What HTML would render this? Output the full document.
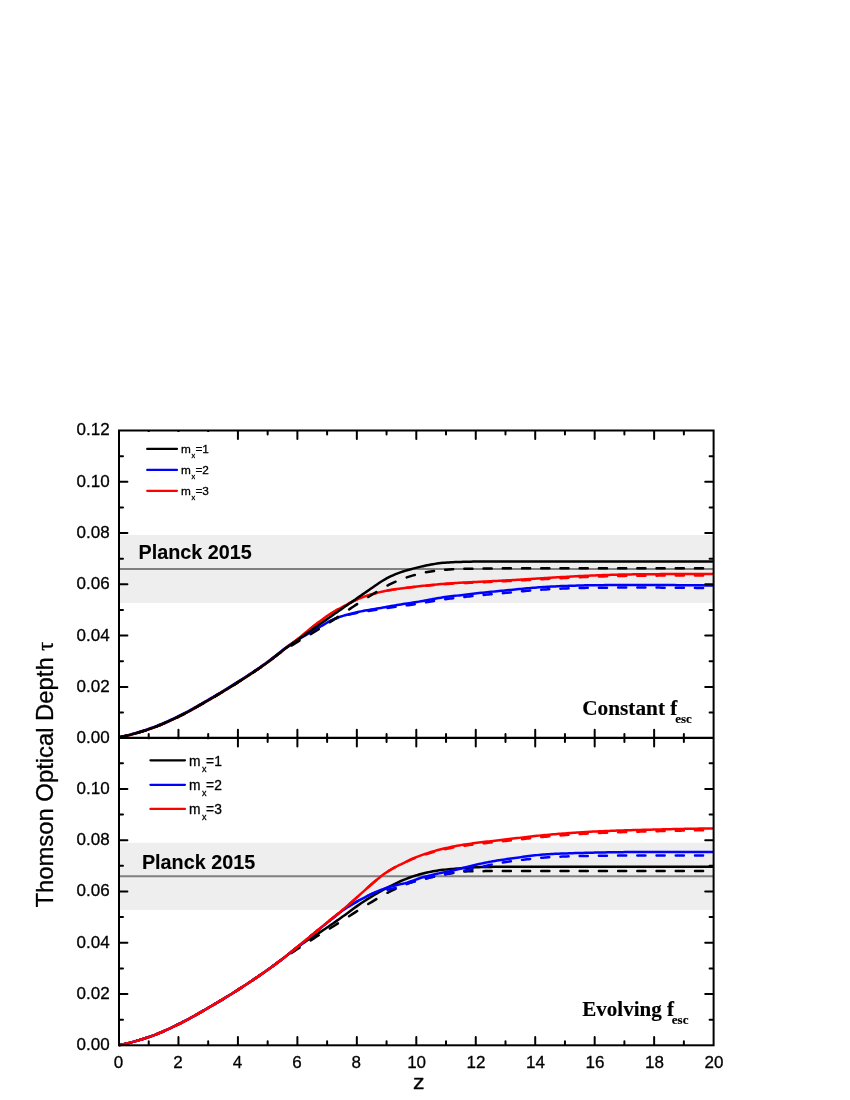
<!DOCTYPE html>
<html><head><meta charset="utf-8"><title>Thomson Optical Depth</title>
<style>html,body{margin:0;padding:0;background:#fff}svg{display:block}text{font-family:"Liberation Sans",sans-serif;fill:#000;stroke:#000;stroke-width:0.3px;stroke-linejoin:round}.ser{font-family:"Liberation Serif",serif;font-weight:bold;stroke-width:0.15px}.c{fill:none;stroke-width:2.5;stroke-linejoin:round}</style></head><body>
<svg width="850" height="1100" viewBox="0 0 850 1100" style="will-change:transform">
<rect width="850" height="1100" fill="#fff"/>
<rect x="120" y="534.9" width="593" height="68" fill="#eeeeee"/>
<rect x="120" y="842.8" width="593" height="67.1" fill="#eeeeee"/>
<line x1="120" x2="713" y1="569" y2="569" stroke="#808080" stroke-width="2"/>
<line x1="120" x2="713" y1="876.2" y2="876.2" stroke="#808080" stroke-width="2"/>
<defs><clipPath id="cu"><rect x="119" y="430" width="594.6" height="309"/></clipPath><clipPath id="cl"><rect x="119" y="737" width="594.6" height="309.5"/></clipPath></defs>
<g clip-path="url(#cu)">
<path class="c" stroke="#0000ff" d="M119 737.29 L121 736.86 L123 736.4 L125 735.93 L127 735.43 L129 734.91 L131 734.37 L133 733.81 L135 733.24 L137 732.64 L139 732.03 L141 731.4 L143 730.76 L145 730.1 L147 729.43 L149 728.74 L151 728.04 L153 727.33 L155 726.58 L157 725.8 L159 725 L161 724.17 L163 723.32 L165 722.45 L167 721.56 L169 720.66 L171 719.74 L173 718.8 L175 717.86 L177 716.9 L179 715.94 L181 714.95 L183 713.94 L185 712.91 L187 711.86 L189 710.78 L191 709.68 L193 708.57 L195 707.44 L197 706.3 L199 705.16 L201 704 L203 702.85 L205 701.69 L207 700.53 L209 699.37 L211 698.2 L213 697.03 L215 695.86 L217 694.67 L219 693.48 L221 692.28 L223 691.07 L225 689.85 L227 688.63 L229 687.4 L231 686.16 L233 684.91 L235 683.65 L237 682.38 L239 681.11 L241 679.83 L243 678.54 L245 677.24 L247 675.94 L249 674.63 L251 673.31 L253 671.98 L255 670.63 L257 669.28 L259 667.91 L261 666.52 L263 665.12 L265 663.7 L267 662.26 L269 660.79 L271 659.29 L273 657.76 L275 656.21 L277 654.63 L279 653.03 L281 651.41 L283 649.8 L285 648.22 L287 646.77 L289 645.38 L291 644.04 L293 642.74 L295 641.48 L297 640.25 L299 639.07 L301 637.9 L303 636.73 L305 635.58 L307 634.42 L309 633.26 L311 632.09 L313 630.92 L315 629.76 L317 628.61 L319 627.44 L321 626.26 L323 625.06 L325 623.87 L327 622.71 L329 621.61 L331 620.57 L333 619.6 L335 618.72 L337 617.91 L339 617.18 L341 616.5 L343 615.87 L345 615.28 L347 614.72 L349 614.19 L351 613.68 L353 613.19 L355 612.71 L357 612.26 L359 611.81 L361 611.39 L363 610.99 L365 610.6 L367 610.23 L369 609.89 L371 609.55 L373 609.23 L375 608.91 L377 608.59 L379 608.25 L381 607.9 L383 607.54 L385 607.17 L387 606.8 L389 606.43 L391 606.06 L393 605.71 L395 605.36 L397 605.03 L399 604.72 L401 604.41 L403 604.11 L405 603.82 L407 603.52 L409 603.23 L411 602.92 L413 602.61 L415 602.29 L417 601.96 L419 601.61 L421 601.26 L423 600.9 L425 600.54 L427 600.18 L429 599.81 L431 599.45 L433 599.08 L435 598.71 L437 598.34 L439 597.99 L441 597.66 L443 597.35 L445 597.07 L447 596.81 L449 596.56 L451 596.33 L453 596.1 L455 595.86 L457 595.63 L459 595.39 L461 595.15 L463 594.91 L465 594.67 L467 594.43 L469 594.19 L471 593.96 L473 593.73 L475 593.5 L477 593.28 L479 593.07 L481 592.86 L483 592.65 L485 592.44 L487 592.24 L489 592.03 L491 591.83 L493 591.63 L495 591.44 L497 591.24 L499 591.05 L501 590.85 L503 590.66 L505 590.47 L507 590.28 L509 590.09 L511 589.89 L513 589.7 L515 589.51 L517 589.31 L519 589.11 L521 588.91 L523 588.72 L525 588.52 L527 588.33 L529 588.15 L531 587.97 L533 587.8 L535 587.64 L537 587.49 L539 587.35 L541 587.22 L543 587.09 L545 586.96 L547 586.84 L549 586.72 L551 586.61 L553 586.5 L555 586.4 L557 586.3 L559 586.2 L561 586.12 L563 586.03 L565 585.96 L567 585.89 L569 585.82 L571 585.75 L573 585.69 L575 585.63 L577 585.57 L579 585.51 L581 585.46 L583 585.41 L585 585.36 L587 585.32 L589 585.28 L591 585.25 L593 585.22 L595 585.2 L597 585.18 L599 585.16 L601 585.14 L603 585.13 L605 585.11 L607 585.1 L609 585.08 L611 585.07 L613 585.06 L615 585.04 L617 585.03 L619 585.02 L621 585.02 L623 585.01 L625 585.01 L627 585 L629 585 L631 585 L633 585 L635 585 L637 585 L639 585 L641 585.01 L643 585.01 L645 585.01 L647 585.01 L649 585.02 L651 585.02 L653 585.03 L655 585.03 L657 585.04 L659 585.05 L661 585.05 L663 585.06 L665 585.07 L667 585.08 L669 585.09 L671 585.1 L673 585.11 L675 585.12 L677 585.13 L679 585.14 L681 585.16 L683 585.17 L685 585.19 L687 585.2 L689 585.22 L691 585.24 L693 585.26 L695 585.27 L697 585.29 L699 585.32 L701 585.34 L703 585.36 L705 585.38 L707 585.41 L709 585.43 L711 585.46 L713 585.48 L713.6 585.48"/>
<path class="c" stroke-linecap="round" stroke="#0000ff" d="M119 737.39 L120.51 737.08 L122.02 736.76 L123.52 736.43 L125.03 736.09 L126.54 735.73 M137.66 732.75 L139.28 732.27 L140.9 731.78 L142.52 731.28 L144.14 730.77 L145.76 730.25 M156.87 726.3 L158.49 725.66 L160.11 724.99 L161.73 724.31 L163.35 723.62 L164.97 722.91 M176.09 717.79 L177.71 717.01 L179.33 716.22 L180.95 715.43 L182.57 714.61 L184.19 713.78 M195.31 707.72 L196.93 706.79 L198.55 705.87 L200.17 704.93 L201.79 704 L203.41 703.06 M214.53 696.58 L216.15 695.63 L217.77 694.66 L219.39 693.7 L221.01 692.72 L222.63 691.75 M233.75 684.89 L235.37 683.87 L236.99 682.84 L238.61 681.81 L240.23 680.77 L241.85 679.73 M252.96 672.45 L254.58 671.36 L256.2 670.27 L257.82 669.16 L259.44 668.05 L261.06 666.92 M272.18 658.84 L273.8 657.59 L275.42 656.33 L277.04 655.05 L278.66 653.75 L280.28 652.44 M291.4 644.03 L293.02 642.94 L294.64 641.86 L296.26 640.82 L297.88 639.79 L299.5 638.8 M310.62 632.31 L312.24 631.37 L313.86 630.43 L315.48 629.49 L317.1 628.55 L318.72 627.61 M329.84 621.17 L331.46 620.38 L333.08 619.64 L334.7 618.96 L336.32 618.33 L337.94 617.75 M349.05 614.63 L350.67 614.25 L352.29 613.89 L353.91 613.53 L355.53 613.19 L357.15 612.86 M368.27 610.91 L369.89 610.67 L371.51 610.44 L373.13 610.22 L374.75 610 L376.37 609.78 M387.49 608.06 L389.11 607.79 L390.73 607.54 L392.35 607.28 L393.97 607.04 L395.59 606.8 M406.71 605.37 L408.33 605.16 L409.95 604.96 L411.57 604.74 L413.19 604.5 L414.81 604.25 M425.93 602.36 L427.55 602.08 L429.17 601.8 L430.79 601.51 L432.41 601.22 L434.03 600.93 M445.14 599.16 L446.76 598.96 L448.38 598.77 L450 598.59 L451.62 598.41 L453.24 598.23 M464.36 596.98 L465.98 596.79 L467.6 596.61 L469.22 596.43 L470.84 596.25 L472.46 596.07 M483.58 594.94 L485.2 594.78 L486.82 594.63 L488.44 594.47 L490.06 594.32 L491.68 594.17 M502.8 593.15 L504.42 593.01 L506.04 592.86 L507.66 592.71 L509.28 592.56 L510.9 592.41 M522.02 591.32 L523.64 591.16 L525.26 591.01 L526.88 590.85 L528.5 590.7 L530.12 590.56 M541.23 589.72 L542.85 589.61 L544.47 589.51 L546.09 589.41 L547.71 589.32 L549.33 589.22 M560.45 588.66 L562.07 588.6 L563.69 588.53 L565.31 588.47 L566.93 588.42 L568.55 588.36 M579.67 588.03 L581.29 587.98 L582.91 587.95 L584.53 587.91 L586.15 587.87 L587.77 587.84 M598.89 587.71 L600.51 587.69 L602.13 587.68 L603.75 587.67 L605.37 587.66 L606.99 587.64 M618.11 587.58 L619.73 587.58 L621.35 587.57 L622.97 587.57 L624.59 587.56 L626.21 587.56 M637.32 587.57 L638.94 587.57 L640.56 587.57 L642.18 587.57 L643.8 587.58 L645.42 587.58 M656.54 587.61 L658.16 587.62 L659.78 587.62 L661.4 587.63 L663.02 587.64 L664.64 587.64 M675.76 587.71 L677.38 587.72 L679 587.73 L680.62 587.74 L682.24 587.75 L683.86 587.76 M694.98 587.87 L696.6 587.88 L698.22 587.9 L699.84 587.92 L701.46 587.94 L703.08 587.96"/>
<path class="c" stroke="#ff0000" d="M119 737.39 L121 736.99 L123 736.57 L125 736.12 L127 735.66 L129 735.17 L131 734.67 L133 734.14 L135 733.6 L137 733.03 L139 732.45 L141 731.86 L143 731.25 L145 730.62 L147 729.98 L149 729.33 L151 728.64 L153 727.93 L155 727.18 L157 726.4 L159 725.6 L161 724.77 L163 723.92 L165 723.05 L167 722.16 L169 721.26 L171 720.34 L173 719.4 L175 718.46 L177 717.5 L179 716.54 L181 715.55 L183 714.54 L185 713.51 L187 712.46 L189 711.38 L191 710.28 L193 709.17 L195 708.04 L197 706.9 L199 705.76 L201 704.6 L203 703.45 L205 702.29 L207 701.13 L209 699.97 L211 698.8 L213 697.63 L215 696.46 L217 695.27 L219 694.08 L221 692.88 L223 691.67 L225 690.45 L227 689.23 L229 688 L231 686.76 L233 685.51 L235 684.25 L237 682.98 L239 681.71 L241 680.43 L243 679.14 L245 677.84 L247 676.54 L249 675.23 L251 673.91 L253 672.58 L255 671.23 L257 669.88 L259 668.51 L261 667.12 L263 665.72 L265 664.3 L267 662.85 L269 661.38 L271 659.88 L273 658.34 L275 656.78 L277 655.19 L279 653.6 L281 652.01 L283 650.44 L285 648.88 L287 647.35 L289 645.85 L291 644.36 L293 642.87 L295 641.33 L297 639.74 L299 638.1 L301 636.41 L303 634.71 L305 633.03 L307 631.37 L309 629.75 L311 628.15 L313 626.58 L315 625.03 L317 623.5 L319 621.98 L321 620.47 L323 618.96 L325 617.49 L327 616.08 L329 614.74 L331 613.47 L333 612.25 L335 611.08 L337 609.94 L339 608.83 L341 607.75 L343 606.67 L345 605.6 L347 604.53 L349 603.47 L351 602.43 L353 601.41 L355 600.42 L357 599.47 L359 598.58 L361 597.78 L363 597.06 L365 596.38 L367 595.74 L369 595.12 L371 594.51 L373 593.93 L375 593.37 L377 592.84 L379 592.34 L381 591.87 L383 591.43 L385 591.02 L387 590.64 L389 590.28 L391 589.94 L393 589.61 L395 589.3 L397 589 L399 588.71 L401 588.43 L403 588.16 L405 587.9 L407 587.65 L409 587.4 L411 587.16 L413 586.93 L415 586.7 L417 586.48 L419 586.26 L421 586.04 L423 585.83 L425 585.62 L427 585.41 L429 585.21 L431 585.01 L433 584.82 L435 584.63 L437 584.44 L439 584.26 L441 584.09 L443 583.92 L445 583.76 L447 583.61 L449 583.46 L451 583.32 L453 583.18 L455 583.05 L457 582.92 L459 582.81 L461 582.7 L463 582.59 L465 582.49 L467 582.39 L469 582.29 L471 582.2 L473 582.1 L475 582 L477 581.9 L479 581.8 L481 581.7 L483 581.6 L485 581.5 L487 581.4 L489 581.3 L491 581.2 L493 581.09 L495 580.99 L497 580.89 L499 580.79 L501 580.68 L503 580.58 L505 580.47 L507 580.36 L509 580.25 L511 580.14 L513 580.03 L515 579.91 L517 579.79 L519 579.68 L521 579.55 L523 579.43 L525 579.31 L527 579.19 L529 579.06 L531 578.94 L533 578.82 L535 578.69 L537 578.57 L539 578.45 L541 578.33 L543 578.21 L545 578.08 L547 577.96 L549 577.84 L551 577.71 L553 577.59 L555 577.47 L557 577.35 L559 577.23 L561 577.11 L563 577 L565 576.88 L567 576.77 L569 576.66 L571 576.55 L573 576.44 L575 576.34 L577 576.23 L579 576.12 L581 576.02 L583 575.92 L585 575.82 L587 575.72 L589 575.63 L591 575.55 L593 575.47 L595 575.39 L597 575.32 L599 575.24 L601 575.17 L603 575.1 L605 575.03 L607 574.96 L609 574.9 L611 574.83 L613 574.77 L615 574.71 L617 574.66 L619 574.6 L621 574.56 L623 574.51 L625 574.48 L627 574.44 L629 574.42 L631 574.39 L633 574.37 L635 574.35 L637 574.33 L639 574.31 L641 574.29 L643 574.27 L645 574.25 L647 574.23 L649 574.21 L651 574.19 L653 574.18 L655 574.16 L657 574.14 L659 574.13 L661 574.11 L663 574.1 L665 574.08 L667 574.07 L669 574.06 L671 574.04 L673 574.03 L675 574.02 L677 574.01 L679 574 L681 573.99 L683 573.98 L685 573.97 L687 573.96 L689 573.95 L691 573.94 L693 573.94 L695 573.93 L697 573.92 L699 573.92 L701 573.91 L703 573.91 L705 573.91 L707 573.9 L709 573.9 L711 573.9 L713 573.9 L713.6 573.9"/>
<path class="c" stroke-linecap="round" stroke="#ff0000" d="M119 737.39 L120.51 737.08 L122.02 736.76 L123.52 736.43 L125.03 736.09 L126.54 735.73 M137.66 732.75 L139.28 732.27 L140.9 731.78 L142.52 731.28 L144.14 730.77 L145.76 730.25 M156.87 726.3 L158.49 725.66 L160.11 724.99 L161.73 724.31 L163.35 723.62 L164.97 722.91 M176.09 717.79 L177.71 717.01 L179.33 716.22 L180.95 715.43 L182.57 714.61 L184.19 713.78 M195.31 707.72 L196.93 706.79 L198.55 705.87 L200.17 704.93 L201.79 704 L203.41 703.06 M214.53 696.58 L216.15 695.63 L217.77 694.66 L219.39 693.7 L221.01 692.72 L222.63 691.75 M233.75 684.89 L235.37 683.87 L236.99 682.84 L238.61 681.81 L240.23 680.77 L241.85 679.73 M252.96 672.45 L254.58 671.36 L256.2 670.27 L257.82 669.16 L259.44 668.05 L261.06 666.92 M272.18 658.82 L273.8 657.57 L275.42 656.3 L277.04 655.03 L278.66 653.75 L280.28 652.48 M291.4 644.06 L293.02 642.85 L294.64 641.61 L296.26 640.34 L297.88 639.03 L299.5 637.68 M310.62 628.45 L312.24 627.17 L313.86 625.91 L315.48 624.66 L317.1 623.42 L318.72 622.19 M329.84 614.2 L331.46 613.19 L333.08 612.21 L334.7 611.26 L336.32 610.33 L337.94 609.42 M349.05 603.44 L350.67 602.6 L352.29 601.77 L353.91 600.95 L355.53 600.16 L357.15 599.4 M368.27 595.34 L369.89 594.84 L371.51 594.36 L373.13 593.89 L374.75 593.44 L376.37 593.01 M387.49 590.59 L389.11 590.31 L390.73 590.05 L392.35 589.79 L393.97 589.55 L395.59 589.31 M406.71 587.85 L408.33 587.66 L409.95 587.47 L411.57 587.29 L413.19 587.11 L414.81 586.94 M425.93 585.81 L427.55 585.65 L429.17 585.5 L430.79 585.35 L432.41 585.2 L434.03 585.05 M445.14 584.15 L446.76 584.04 L448.38 583.93 L450 583.82 L451.62 583.71 L453.24 583.61 M464.36 583.04 L465.98 582.97 L467.6 582.9 L469.22 582.83 L470.84 582.76 L472.46 582.7 M483.58 582.21 L485.2 582.13 L486.82 582.06 L488.44 581.99 L490.06 581.92 L491.68 581.85 M502.8 581.35 L504.42 581.27 L506.04 581.19 L507.66 581.11 L509.28 581.04 L510.9 580.95 M522.02 580.37 L523.64 580.28 L525.26 580.19 L526.88 580.1 L528.5 580.01 L530.12 579.92 M541.23 579.3 L542.85 579.21 L544.47 579.11 L546.09 579.02 L547.71 578.93 L549.33 578.84 M560.45 578.23 L562.07 578.14 L563.69 578.06 L565.31 577.98 L566.93 577.89 L568.55 577.81 M579.67 577.27 L581.29 577.2 L582.91 577.12 L584.53 577.05 L586.15 576.98 L587.77 576.92 M598.89 576.54 L600.51 576.49 L602.13 576.44 L603.75 576.39 L605.37 576.34 L606.99 576.29 M618.11 576.02 L619.73 575.99 L621.35 575.95 L622.97 575.92 L624.59 575.89 L626.21 575.87 M637.32 575.76 L638.94 575.75 L640.56 575.74 L642.18 575.72 L643.8 575.71 L645.42 575.7 M656.54 575.63 L658.16 575.62 L659.78 575.61 L661.4 575.6 L663.02 575.59 L664.64 575.58 M675.76 575.53 L677.38 575.53 L679 575.52 L680.62 575.52 L682.24 575.51 L683.86 575.51 M694.98 575.49 L696.6 575.49 L698.22 575.49 L699.84 575.49 L701.46 575.49 L703.08 575.49"/>
<path class="c" stroke="#000" d="M119 737.39 L121 736.98 L123 736.55 L125 736.09 L127 735.62 L129 735.12 L131 734.61 L133 734.07 L135 733.52 L137 732.95 L139 732.36 L141 731.75 L143 731.13 L145 730.5 L147 729.85 L149 729.18 L151 728.49 L153 727.78 L155 727.03 L157 726.25 L159 725.45 L161 724.62 L163 723.77 L165 722.9 L167 722.01 L169 721.11 L171 720.19 L173 719.25 L175 718.31 L177 717.35 L179 716.39 L181 715.4 L183 714.39 L185 713.36 L187 712.31 L189 711.23 L191 710.13 L193 709.02 L195 707.89 L197 706.75 L199 705.61 L201 704.45 L203 703.3 L205 702.14 L207 700.98 L209 699.82 L211 698.65 L213 697.48 L215 696.31 L217 695.12 L219 693.93 L221 692.73 L223 691.52 L225 690.3 L227 689.08 L229 687.85 L231 686.61 L233 685.36 L235 684.1 L237 682.83 L239 681.56 L241 680.28 L243 678.99 L245 677.69 L247 676.39 L249 675.08 L251 673.76 L253 672.43 L255 671.08 L257 669.73 L259 668.36 L261 666.97 L263 665.57 L265 664.15 L267 662.7 L269 661.23 L271 659.73 L273 658.19 L275 656.63 L277 655.06 L279 653.49 L281 651.92 L283 650.36 L285 648.84 L287 647.37 L289 645.93 L291 644.52 L293 643.13 L295 641.75 L297 640.36 L299 638.96 L301 637.55 L303 636.14 L305 634.72 L307 633.3 L309 631.88 L311 630.46 L313 629.04 L315 627.63 L317 626.23 L319 624.82 L321 623.42 L323 622.01 L325 620.61 L327 619.21 L329 617.81 L331 616.4 L333 615 L335 613.6 L337 612.19 L339 610.79 L341 609.39 L343 608 L345 606.6 L347 605.21 L349 603.82 L351 602.43 L353 601.04 L355 599.66 L357 598.28 L359 596.89 L361 595.51 L363 594.13 L365 592.75 L367 591.36 L369 589.97 L371 588.57 L373 587.17 L375 585.78 L377 584.41 L379 583.07 L381 581.77 L383 580.52 L385 579.33 L387 578.2 L389 577.16 L391 576.2 L393 575.3 L395 574.45 L397 573.65 L399 572.89 L401 572.18 L403 571.51 L405 570.88 L407 570.29 L409 569.72 L411 569.17 L413 568.63 L415 568.11 L417 567.61 L419 567.12 L421 566.64 L423 566.18 L425 565.74 L427 565.32 L429 564.93 L431 564.57 L433 564.22 L435 563.88 L437 563.57 L439 563.29 L441 563.05 L443 562.84 L445 562.67 L447 562.53 L449 562.4 L451 562.28 L453 562.18 L455 562.09 L457 562.02 L459 561.95 L461 561.88 L463 561.82 L465 561.76 L467 561.71 L469 561.67 L471 561.64 L473 561.62 L475 561.61 L477 561.6 L479 561.6 L481 561.6 L483 561.6 L485 561.6 L487 561.6 L489 561.6 L491 561.6 L493 561.6 L495 561.6 L497 561.6 L499 561.6 L501 561.6 L503 561.6 L505 561.6 L507 561.6 L509 561.6 L511 561.6 L513 561.6 L515 561.6 L517 561.6 L519 561.6 L521 561.6 L523 561.6 L525 561.6 L527 561.6 L529 561.6 L531 561.6 L533 561.6 L535 561.6 L537 561.6 L539 561.6 L541 561.6 L543 561.6 L545 561.6 L547 561.6 L549 561.6 L551 561.6 L553 561.6 L555 561.6 L557 561.6 L559 561.6 L561 561.6 L563 561.6 L565 561.6 L567 561.6 L569 561.6 L571 561.6 L573 561.6 L575 561.6 L577 561.6 L579 561.6 L581 561.6 L583 561.6 L585 561.6 L587 561.6 L589 561.6 L591 561.6 L593 561.6 L595 561.6 L597 561.6 L599 561.6 L601 561.6 L603 561.6 L605 561.6 L607 561.6 L609 561.6 L611 561.6 L613 561.6 L615 561.6 L617 561.6 L619 561.6 L621 561.6 L623 561.6 L625 561.6 L627 561.6 L629 561.6 L631 561.6 L633 561.6 L635 561.6 L637 561.6 L639 561.6 L641 561.6 L643 561.6 L645 561.6 L647 561.6 L649 561.6 L651 561.6 L653 561.6 L655 561.6 L657 561.6 L659 561.6 L661 561.6 L663 561.6 L665 561.6 L667 561.6 L669 561.6 L671 561.6 L673 561.6 L675 561.6 L677 561.6 L679 561.6 L681 561.6 L683 561.6 L685 561.6 L687 561.6 L689 561.6 L691 561.6 L693 561.6 L695 561.6 L697 561.6 L699 561.6 L701 561.6 L703 561.6 L705 561.6 L707 561.6 L709 561.6 L711 561.6 L713 561.6 L713.6 561.6"/>
<path class="c" stroke-linecap="round" stroke="#000" d="M119 737.39 L120.51 737.08 L122.02 736.76 L123.52 736.43 L125.03 736.09 L126.54 735.73 M137.66 732.75 L139.28 732.27 L140.9 731.78 L142.52 731.28 L144.14 730.77 L145.76 730.25 M156.87 726.3 L158.49 725.66 L160.11 724.99 L161.73 724.31 L163.35 723.62 L164.97 722.91 M176.09 717.79 L177.71 717.01 L179.33 716.22 L180.95 715.43 L182.57 714.61 L184.19 713.78 M195.31 707.72 L196.93 706.79 L198.55 705.87 L200.17 704.93 L201.79 704 L203.41 703.06 M214.53 696.58 L216.15 695.63 L217.77 694.66 L219.39 693.7 L221.01 692.72 L222.63 691.75 M233.75 684.89 L235.37 683.87 L236.99 682.84 L238.61 681.81 L240.23 680.77 L241.85 679.73 M252.96 672.45 L254.58 671.36 L256.2 670.27 L257.82 669.16 L259.44 668.05 L261.06 666.92 M272.18 658.74 L273.8 657.46 L275.42 656.19 L277.04 654.94 L278.66 653.73 L280.28 652.57 M291.4 645.55 L293.02 644.59 L294.64 643.62 L296.26 642.65 L297.88 641.69 L299.5 640.73 M310.62 634.22 L312.24 633.26 L313.86 632.28 L315.48 631.29 L317.1 630.3 L318.72 629.29 M329.84 622.2 L331.46 621.15 L333.08 620.1 L334.7 619.03 L336.32 617.97 L337.94 616.89 M349.05 609.42 L350.67 608.34 L352.29 607.27 L353.91 606.21 L355.53 605.15 L357.15 604.1 M368.27 597 L369.89 596 L371.51 595.01 L373.13 594.02 L374.75 593.03 L376.37 592.04 M387.49 585.54 L389.11 584.7 L390.73 583.9 L392.35 583.14 L393.97 582.4 L395.59 581.68 M406.71 577.38 L408.33 576.84 L409.95 576.34 L411.57 575.86 L413.19 575.39 L414.81 574.95 M425.93 572.33 L427.55 572.03 L429.17 571.76 L430.79 571.5 L432.41 571.26 L434.03 571.04 M445.14 569.8 L446.76 569.67 L448.38 569.55 L450 569.45 L451.62 569.35 L453.24 569.26 M464.36 568.8 L465.98 568.76 L467.6 568.72 L469.22 568.69 L470.84 568.67 L472.46 568.65 M483.58 568.51 L485.2 568.49 L486.82 568.47 L488.44 568.46 L490.06 568.44 L491.68 568.43 M502.8 568.35 L504.42 568.34 L506.04 568.33 L507.66 568.33 L509.28 568.32 L510.9 568.31 M522.02 568.3 L523.64 568.3 L525.26 568.3 L526.88 568.3 L528.5 568.3 L530.12 568.3 M541.23 568.3 L542.85 568.3 L544.47 568.3 L546.09 568.3 L547.71 568.3 L549.33 568.3 M560.45 568.3 L562.07 568.3 L563.69 568.3 L565.31 568.3 L566.93 568.3 L568.55 568.3 M579.67 568.3 L581.29 568.3 L582.91 568.3 L584.53 568.3 L586.15 568.3 L587.77 568.3 M598.89 568.3 L600.51 568.3 L602.13 568.3 L603.75 568.3 L605.37 568.3 L606.99 568.3 M618.11 568.3 L619.73 568.3 L621.35 568.3 L622.97 568.3 L624.59 568.3 L626.21 568.3 M637.32 568.3 L638.94 568.3 L640.56 568.3 L642.18 568.3 L643.8 568.3 L645.42 568.3 M656.54 568.3 L658.16 568.3 L659.78 568.3 L661.4 568.3 L663.02 568.3 L664.64 568.3 M675.76 568.3 L677.38 568.3 L679 568.3 L680.62 568.3 L682.24 568.3 L683.86 568.3 M694.98 568.3 L696.6 568.3 L698.22 568.3 L699.84 568.3 L701.46 568.3 L703.08 568.3"/>
</g>
<g clip-path="url(#cl)">
<path class="c" stroke="#000" d="M119 1045.19 L121 1044.78 L123 1044.36 L125 1043.91 L127 1043.44 L129 1042.94 L131 1042.43 L133 1041.89 L135 1041.34 L137 1040.76 L139 1040.17 L141 1039.57 L143 1038.94 L145 1038.31 L147 1037.65 L149 1036.98 L151 1036.29 L153 1035.56 L155 1034.8 L157 1034.02 L159 1033.2 L161 1032.36 L163 1031.49 L165 1030.6 L167 1029.7 L169 1028.77 L171 1027.84 L173 1026.89 L175 1025.93 L177 1024.96 L179 1023.99 L181 1023 L183 1021.98 L185 1020.95 L187 1019.89 L189 1018.81 L191 1017.71 L193 1016.6 L195 1015.48 L197 1014.34 L199 1013.2 L201 1012.05 L203 1010.89 L205 1009.74 L207 1008.58 L209 1007.42 L211 1006.25 L213 1005.08 L215 1003.91 L217 1002.72 L219 1001.53 L221 1000.33 L223 999.12 L225 997.9 L227 996.68 L229 995.45 L231 994.21 L233 992.96 L235 991.7 L237 990.43 L239 989.15 L241 987.87 L243 986.57 L245 985.26 L247 983.95 L249 982.63 L251 981.29 L253 979.95 L255 978.6 L257 977.24 L259 975.87 L261 974.49 L263 973.1 L265 971.7 L267 970.3 L269 968.88 L271 967.44 L273 965.99 L275 964.52 L277 963.04 L279 961.54 L281 960.02 L283 958.49 L285 956.94 L287 955.38 L289 953.82 L291 952.26 L293 950.73 L295 949.2 L297 947.69 L299 946.2 L301 944.72 L303 943.27 L305 941.87 L307 940.51 L309 939.2 L311 937.93 L313 936.69 L315 935.46 L317 934.21 L319 932.93 L321 931.63 L323 930.3 L325 928.95 L327 927.59 L329 926.22 L331 924.83 L333 923.44 L335 922.04 L337 920.62 L339 919.19 L341 917.76 L343 916.33 L345 914.9 L347 913.46 L349 912.01 L351 910.55 L353 909.07 L355 907.59 L357 906.13 L359 904.71 L361 903.34 L363 902 L365 900.7 L367 899.42 L369 898.17 L371 896.94 L373 895.74 L375 894.55 L377 893.38 L379 892.24 L381 891.12 L383 890.01 L385 888.93 L387 887.87 L389 886.82 L391 885.79 L393 884.78 L395 883.78 L397 882.82 L399 881.9 L401 881.01 L403 880.16 L405 879.34 L407 878.54 L409 877.78 L411 877.05 L413 876.37 L415 875.72 L417 875.12 L419 874.54 L421 873.99 L423 873.48 L425 872.99 L427 872.53 L429 872.1 L431 871.7 L433 871.33 L435 870.97 L437 870.65 L439 870.36 L441 870.09 L443 869.85 L445 869.63 L447 869.43 L449 869.23 L451 869.05 L453 868.87 L455 868.7 L457 868.54 L459 868.38 L461 868.23 L463 868.08 L465 867.94 L467 867.8 L469 867.67 L471 867.54 L473 867.41 L475 867.3 L477 867.21 L479 867.13 L481 867.08 L483 867.04 L485 867 L487 866.96 L489 866.93 L491 866.9 L493 866.87 L495 866.84 L497 866.81 L499 866.79 L501 866.77 L503 866.75 L505 866.74 L507 866.73 L509 866.72 L511 866.71 L513 866.7 L515 866.7 L517 866.7 L519 866.7 L521 866.7 L523 866.7 L525 866.7 L527 866.7 L529 866.7 L531 866.7 L533 866.7 L535 866.7 L537 866.7 L539 866.7 L541 866.7 L543 866.7 L545 866.7 L547 866.7 L549 866.7 L551 866.7 L553 866.7 L555 866.7 L557 866.7 L559 866.7 L561 866.7 L563 866.7 L565 866.7 L567 866.7 L569 866.7 L571 866.7 L573 866.7 L575 866.7 L577 866.7 L579 866.7 L581 866.7 L583 866.7 L585 866.7 L587 866.7 L589 866.7 L591 866.7 L593 866.7 L595 866.7 L597 866.7 L599 866.7 L601 866.7 L603 866.7 L605 866.7 L607 866.7 L609 866.7 L611 866.7 L613 866.7 L615 866.7 L617 866.7 L619 866.7 L621 866.7 L623 866.7 L625 866.7 L627 866.7 L629 866.7 L631 866.7 L633 866.7 L635 866.7 L637 866.7 L639 866.7 L641 866.7 L643 866.7 L645 866.7 L647 866.7 L649 866.7 L651 866.7 L653 866.7 L655 866.7 L657 866.7 L659 866.7 L661 866.7 L663 866.7 L665 866.7 L667 866.7 L669 866.7 L671 866.7 L673 866.7 L675 866.7 L677 866.7 L679 866.7 L681 866.7 L683 866.7 L685 866.7 L687 866.7 L689 866.7 L691 866.7 L693 866.7 L695 866.7 L697 866.7 L699 866.7 L701 866.7 L703 866.7 L705 866.7 L707 866.7 L709 866.7 L711 866.7 L713 866.7 L713.6 866.7"/>
<path class="c" stroke-linecap="round" stroke="#000" d="M119 1045.19 L120.51 1044.89 L122.02 1044.57 L123.52 1044.24 L125.03 1043.9 L126.54 1043.55 M137.66 1040.57 L139.28 1040.09 L140.9 1039.6 L142.52 1039.1 L144.14 1038.58 L145.76 1038.06 M156.87 1034.07 L158.49 1033.41 L160.11 1032.73 L161.73 1032.04 L163.35 1031.33 L164.97 1030.61 M176.09 1025.4 L177.71 1024.62 L179.33 1023.82 L180.95 1023.02 L182.57 1022.2 L184.19 1021.37 M195.31 1015.3 L196.93 1014.38 L198.55 1013.46 L200.17 1012.53 L201.79 1011.59 L203.41 1010.66 M214.53 1004.18 L216.15 1003.23 L217.77 1002.26 L219.39 1001.3 L221.01 1000.32 L222.63 999.35 M233.75 992.49 L235.37 991.47 L236.99 990.44 L238.61 989.41 L240.23 988.37 L241.85 987.32 M252.96 979.97 L254.58 978.88 L256.2 977.78 L257.82 976.67 L259.44 975.56 L261.06 974.44 M272.18 966.54 L273.8 965.35 L275.42 964.15 L277.04 962.96 L278.66 961.78 L280.28 960.62 M291.4 953.03 L293.02 951.95 L294.64 950.87 L296.26 949.8 L297.88 948.72 L299.5 947.65 M310.62 940.4 L312.24 939.36 L313.86 938.33 L315.48 937.31 L317.1 936.29 L318.72 935.29 M329.84 928.48 L331.46 927.48 L333.08 926.47 L334.7 925.45 L336.32 924.43 L337.94 923.39 M349.05 916.23 L350.67 915.19 L352.29 914.15 L353.91 913.12 L355.53 912.09 L357.15 911.06 M368.27 904.06 L369.89 903.06 L371.51 902.08 L373.13 901.11 L374.75 900.14 L376.37 899.17 M387.49 892.79 L389.11 891.93 L390.73 891.11 L392.35 890.31 L393.97 889.52 L395.59 888.76 M406.71 884 L408.33 883.41 L409.95 882.85 L411.57 882.32 L413.19 881.82 L414.81 881.34 M425.93 878.51 L427.55 878.13 L429.17 877.76 L430.79 877.39 L432.41 877.01 L434.03 876.64 M445.14 874.27 L446.76 873.98 L448.38 873.71 L450 873.45 L451.62 873.2 L453.24 872.95 M464.36 871.57 L465.98 871.45 L467.6 871.37 L469.22 871.31 L470.84 871.27 L472.46 871.24 M483.58 871.13 L485.2 871.12 L486.82 871.11 L488.44 871.1 L490.06 871.08 L491.68 871.07 M502.8 871.01 L504.42 871.01 L506.04 871 L507.66 871 L509.28 871 L510.9 871 M522.02 871.01 L523.64 871.01 L525.26 871.01 L526.88 871.01 L528.5 871.01 L530.12 871.02 M541.23 871.03 L542.85 871.03 L544.47 871.04 L546.09 871.04 L547.71 871.04 L549.33 871.04 M560.45 871.06 L562.07 871.06 L563.69 871.07 L565.31 871.07 L566.93 871.07 L568.55 871.07 M579.67 871.09 L581.29 871.09 L582.91 871.09 L584.53 871.09 L586.15 871.09 L587.77 871.1 M598.89 871.1 L600.51 871.1 L602.13 871.1 L603.75 871.1 L605.37 871.1 L606.99 871.1 M618.11 871.1 L619.73 871.1 L621.35 871.1 L622.97 871.1 L624.59 871.1 L626.21 871.1 M637.32 871.1 L638.94 871.1 L640.56 871.1 L642.18 871.1 L643.8 871.1 L645.42 871.1 M656.54 871.1 L658.16 871.1 L659.78 871.1 L661.4 871.1 L663.02 871.1 L664.64 871.1 M675.76 871.1 L677.38 871.1 L679 871.1 L680.62 871.1 L682.24 871.1 L683.86 871.1 M694.98 871.1 L696.6 871.1 L698.22 871.1 L699.84 871.1 L701.46 871.1 L703.08 871.1"/>
<path class="c" stroke="#0000ff" d="M119 1045.19 L121 1044.78 L123 1044.36 L125 1043.91 L127 1043.44 L129 1042.94 L131 1042.43 L133 1041.89 L135 1041.34 L137 1040.76 L139 1040.17 L141 1039.57 L143 1038.94 L145 1038.31 L147 1037.65 L149 1036.98 L151 1036.29 L153 1035.56 L155 1034.8 L157 1034.02 L159 1033.2 L161 1032.36 L163 1031.49 L165 1030.6 L167 1029.7 L169 1028.77 L171 1027.84 L173 1026.89 L175 1025.93 L177 1024.96 L179 1023.99 L181 1023 L183 1021.98 L185 1020.95 L187 1019.89 L189 1018.81 L191 1017.71 L193 1016.6 L195 1015.48 L197 1014.34 L199 1013.2 L201 1012.05 L203 1010.89 L205 1009.74 L207 1008.58 L209 1007.42 L211 1006.25 L213 1005.08 L215 1003.91 L217 1002.72 L219 1001.53 L221 1000.33 L223 999.12 L225 997.9 L227 996.68 L229 995.45 L231 994.21 L233 992.96 L235 991.7 L237 990.43 L239 989.15 L241 987.87 L243 986.57 L245 985.26 L247 983.95 L249 982.63 L251 981.29 L253 979.95 L255 978.6 L257 977.24 L259 975.87 L261 974.49 L263 973.1 L265 971.7 L267 970.3 L269 968.88 L271 967.45 L273 966 L275 964.53 L277 963.04 L279 961.54 L281 960.02 L283 958.49 L285 956.93 L287 955.36 L289 953.78 L291 952.2 L293 950.6 L295 949.01 L297 947.4 L299 945.79 L301 944.18 L303 942.55 L305 940.92 L307 939.29 L309 937.65 L311 936.01 L313 934.36 L315 932.71 L317 931.06 L319 929.42 L321 927.77 L323 926.12 L325 924.47 L327 922.83 L329 921.19 L331 919.57 L333 917.97 L335 916.4 L337 914.84 L339 913.31 L341 911.81 L343 910.35 L345 908.94 L347 907.58 L349 906.27 L351 905.01 L353 903.81 L355 902.66 L357 901.55 L359 900.46 L361 899.39 L363 898.32 L365 897.27 L367 896.23 L369 895.23 L371 894.25 L373 893.31 L375 892.4 L377 891.52 L379 890.66 L381 889.83 L383 889.05 L385 888.32 L387 887.65 L389 887.04 L391 886.48 L393 885.96 L395 885.48 L397 885.02 L399 884.57 L401 884.13 L403 883.66 L405 883.15 L407 882.59 L409 881.97 L411 881.31 L413 880.62 L415 879.92 L417 879.22 L419 878.54 L421 877.89 L423 877.29 L425 876.73 L427 876.19 L429 875.68 L431 875.19 L433 874.71 L435 874.25 L437 873.8 L439 873.38 L441 872.97 L443 872.58 L445 872.2 L447 871.81 L449 871.41 L451 870.98 L453 870.53 L455 870.05 L457 869.54 L459 869.02 L461 868.49 L463 867.97 L465 867.46 L467 866.95 L469 866.45 L471 865.96 L473 865.47 L475 864.99 L477 864.52 L479 864.07 L481 863.63 L483 863.2 L485 862.78 L487 862.38 L489 861.99 L491 861.61 L493 861.25 L495 860.91 L497 860.59 L499 860.27 L501 859.97 L503 859.68 L505 859.39 L507 859.11 L509 858.83 L511 858.54 L513 858.25 L515 857.97 L517 857.68 L519 857.4 L521 857.12 L523 856.85 L525 856.58 L527 856.32 L529 856.06 L531 855.81 L533 855.56 L535 855.34 L537 855.13 L539 854.94 L541 854.77 L543 854.61 L545 854.47 L547 854.33 L549 854.2 L551 854.08 L553 853.97 L555 853.87 L557 853.78 L559 853.69 L561 853.61 L563 853.53 L565 853.46 L567 853.38 L569 853.31 L571 853.25 L573 853.18 L575 853.12 L577 853.05 L579 852.99 L581 852.93 L583 852.88 L585 852.82 L587 852.77 L589 852.72 L591 852.68 L593 852.64 L595 852.59 L597 852.56 L599 852.52 L601 852.48 L603 852.44 L605 852.4 L607 852.36 L609 852.32 L611 852.29 L613 852.26 L615 852.23 L617 852.2 L619 852.17 L621 852.15 L623 852.13 L625 852.12 L627 852.11 L629 852.1 L631 852.1 L633 852.1 L635 852.1 L637 852.1 L639 852.1 L641 852.1 L643 852.1 L645 852.1 L647 852.1 L649 852.1 L651 852.1 L653 852.1 L655 852.1 L657 852.1 L659 852.1 L661 852.1 L663 852.1 L665 852.1 L667 852.1 L669 852.1 L671 852.1 L673 852.1 L675 852.1 L677 852.1 L679 852.1 L681 852.1 L683 852.1 L685 852.1 L687 852.1 L689 852.1 L691 852.1 L693 852.1 L695 852.1 L697 852.1 L699 852.1 L701 852.1 L703 852.1 L705 852.1 L707 852.1 L709 852.1 L711 852.1 L713 852.1 L713.6 852.1"/>
<path class="c" stroke-linecap="round" stroke="#0000ff" d="M119 1045.19 L120.51 1044.89 L122.02 1044.57 L123.52 1044.24 L125.03 1043.9 L126.54 1043.55 M137.66 1040.57 L139.28 1040.09 L140.9 1039.6 L142.52 1039.1 L144.14 1038.58 L145.76 1038.06 M156.87 1034.07 L158.49 1033.41 L160.11 1032.73 L161.73 1032.04 L163.35 1031.33 L164.97 1030.61 M176.09 1025.4 L177.71 1024.62 L179.33 1023.82 L180.95 1023.02 L182.57 1022.2 L184.19 1021.37 M195.31 1015.3 L196.93 1014.38 L198.55 1013.46 L200.17 1012.53 L201.79 1011.59 L203.41 1010.66 M214.53 1004.18 L216.15 1003.23 L217.77 1002.26 L219.39 1001.3 L221.01 1000.32 L222.63 999.35 M233.75 992.49 L235.37 991.47 L236.99 990.44 L238.61 989.41 L240.23 988.37 L241.85 987.32 M252.96 979.97 L254.58 978.88 L256.2 977.78 L257.82 976.67 L259.44 975.56 L261.06 974.44 M272.18 966.59 L273.8 965.41 L275.42 964.22 L277.04 963.01 L278.66 961.8 L280.28 960.57 M291.4 951.88 L293.02 950.59 L294.64 949.29 L296.26 948 L297.88 946.7 L299.5 945.39 M310.62 936.32 L312.24 934.99 L313.86 933.65 L315.48 932.32 L317.1 930.98 L318.72 929.65 M329.84 920.51 L331.46 919.2 L333.08 917.91 L334.7 916.63 L336.32 915.37 L337.94 914.12 M349.05 906.23 L350.67 905.21 L352.29 904.23 L353.91 903.28 L355.53 902.36 L357.15 901.46 M368.27 895.54 L369.89 894.75 L371.51 893.99 L373.13 893.27 L374.75 892.59 L376.37 891.99 M387.49 889.68 L389.11 889.4 L390.73 889.09 L392.35 888.73 L393.97 888.32 L395.59 887.86 M406.71 883.92 L408.33 883.36 L409.95 882.83 L411.57 882.32 L413.19 881.85 L414.81 881.4 M425.93 878.55 L427.55 878.16 L429.17 877.77 L430.79 877.39 L432.41 877.01 L434.03 876.64 M445.14 874.19 L446.76 873.86 L448.38 873.53 L450 873.22 L451.62 872.91 L453.24 872.61 M464.36 870.64 L465.98 870.34 L467.6 870.02 L469.22 869.69 L470.84 869.35 L472.46 868.99 M483.58 866.35 L485.2 865.98 L486.82 865.62 L488.44 865.28 L490.06 864.94 L491.68 864.61 M502.8 862.52 L504.42 862.25 L506.04 861.99 L507.66 861.74 L509.28 861.51 L510.9 861.28 M522.02 859.88 L523.64 859.69 L525.26 859.51 L526.88 859.33 L528.5 859.14 L530.12 858.96 M541.23 857.83 L542.85 857.7 L544.47 857.57 L546.09 857.45 L547.71 857.34 L549.33 857.24 M560.45 856.64 L562.07 856.58 L563.69 856.52 L565.31 856.46 L566.93 856.41 L568.55 856.36 M579.67 856.08 L581.29 856.05 L582.91 856.02 L584.53 856 L586.15 855.97 L587.77 855.95 M598.89 855.84 L600.51 855.82 L602.13 855.81 L603.75 855.79 L605.37 855.77 L606.99 855.75 M618.11 855.62 L619.73 855.61 L621.35 855.61 L622.97 855.6 L624.59 855.59 L626.21 855.59 M637.32 855.57 L638.94 855.56 L640.56 855.56 L642.18 855.56 L643.8 855.56 L645.42 855.55 M656.54 855.54 L658.16 855.53 L659.78 855.53 L661.4 855.53 L663.02 855.53 L664.64 855.53 M675.76 855.52 L677.38 855.51 L679 855.51 L680.62 855.51 L682.24 855.51 L683.86 855.51 M694.98 855.5 L696.6 855.5 L698.22 855.5 L699.84 855.5 L701.46 855.5 L703.08 855.5"/>
<path class="c" stroke="#ff0000" d="M119 1045.2 L121 1044.8 L123 1044.37 L125 1043.92 L127 1043.45 L129 1042.96 L131 1042.44 L133 1041.9 L135 1041.35 L137 1040.77 L139 1040.18 L141 1039.58 L143 1038.95 L145 1038.31 L147 1037.66 L149 1037 L151 1036.3 L153 1035.58 L155 1034.82 L157 1034.03 L159 1033.21 L161 1032.37 L163 1031.5 L165 1030.61 L167 1029.71 L169 1028.78 L171 1027.84 L173 1026.89 L175 1025.93 L177 1024.97 L179 1024 L181 1023.01 L183 1022 L185 1020.96 L187 1019.9 L189 1018.82 L191 1017.72 L193 1016.61 L195 1015.49 L197 1014.35 L199 1013.2 L201 1012.05 L203 1010.89 L205 1009.74 L207 1008.58 L209 1007.42 L211 1006.26 L213 1005.09 L215 1003.91 L217 1002.73 L219 1001.53 L221 1000.33 L223 999.13 L225 997.91 L227 996.69 L229 995.45 L231 994.21 L233 992.96 L235 991.7 L237 990.44 L239 989.16 L241 987.87 L243 986.58 L245 985.27 L247 983.96 L249 982.63 L251 981.3 L253 979.95 L255 978.6 L257 977.24 L259 975.87 L261 974.49 L263 973.1 L265 971.71 L267 970.3 L269 968.89 L271 967.46 L273 966.01 L275 964.55 L277 963.07 L279 961.56 L281 960.02 L283 958.46 L285 956.86 L287 955.25 L289 953.62 L291 952 L293 950.37 L295 948.76 L297 947.14 L299 945.53 L301 943.92 L303 942.3 L305 940.68 L307 939.05 L309 937.41 L311 935.76 L313 934.11 L315 932.46 L317 930.81 L319 929.17 L321 927.53 L323 925.89 L325 924.26 L327 922.63 L329 921.01 L331 919.38 L333 917.74 L335 916.11 L337 914.48 L339 912.86 L341 911.23 L343 909.58 L345 907.89 L347 906.17 L349 904.43 L351 902.65 L353 900.87 L355 899.07 L357 897.28 L359 895.49 L361 893.69 L363 891.88 L365 890.06 L367 888.25 L369 886.46 L371 884.7 L373 882.97 L375 881.28 L377 879.6 L379 877.94 L381 876.33 L383 874.8 L385 873.36 L387 872.01 L389 870.74 L391 869.54 L393 868.39 L395 867.28 L397 866.24 L399 865.24 L401 864.26 L403 863.29 L405 862.29 L407 861.26 L409 860.27 L411 859.36 L413 858.5 L415 857.67 L417 856.88 L419 856.12 L421 855.38 L423 854.67 L425 853.98 L427 853.32 L429 852.67 L431 852.04 L433 851.44 L435 850.86 L437 850.31 L439 849.78 L441 849.27 L443 848.78 L445 848.31 L447 847.86 L449 847.42 L451 847 L453 846.6 L455 846.22 L457 845.85 L459 845.49 L461 845.14 L463 844.81 L465 844.5 L467 844.19 L469 843.9 L471 843.63 L473 843.36 L475 843.1 L477 842.84 L479 842.59 L481 842.34 L483 842.09 L485 841.84 L487 841.6 L489 841.37 L491 841.13 L493 840.89 L495 840.66 L497 840.43 L499 840.19 L501 839.96 L503 839.73 L505 839.5 L507 839.27 L509 839.04 L511 838.81 L513 838.58 L515 838.35 L517 838.11 L519 837.87 L521 837.63 L523 837.39 L525 837.16 L527 836.92 L529 836.69 L531 836.46 L533 836.24 L535 836.03 L537 835.82 L539 835.62 L541 835.43 L543 835.24 L545 835.06 L547 834.88 L549 834.7 L551 834.53 L553 834.36 L555 834.19 L557 834.03 L559 833.87 L561 833.71 L563 833.56 L565 833.41 L567 833.26 L569 833.12 L571 832.97 L573 832.83 L575 832.69 L577 832.55 L579 832.42 L581 832.28 L583 832.16 L585 832.03 L587 831.91 L589 831.8 L591 831.69 L593 831.58 L595 831.49 L597 831.39 L599 831.3 L601 831.22 L603 831.13 L605 831.05 L607 830.97 L609 830.89 L611 830.82 L613 830.74 L615 830.67 L617 830.6 L619 830.54 L621 830.47 L623 830.41 L625 830.35 L627 830.29 L629 830.23 L631 830.17 L633 830.12 L635 830.06 L637 830.01 L639 829.95 L641 829.9 L643 829.84 L645 829.79 L647 829.73 L649 829.68 L651 829.63 L653 829.58 L655 829.53 L657 829.47 L659 829.42 L661 829.38 L663 829.33 L665 829.28 L667 829.23 L669 829.18 L671 829.14 L673 829.09 L675 829.05 L677 829.01 L679 828.96 L681 828.92 L683 828.88 L685 828.84 L687 828.8 L689 828.77 L691 828.73 L693 828.7 L695 828.66 L697 828.63 L699 828.6 L701 828.57 L703 828.54 L705 828.51 L707 828.48 L709 828.46 L711 828.43 L713 828.41 L713.6 828.41"/>
<path class="c" stroke-linecap="round" stroke="#ff0000" d="M119 1045.2 L120.51 1044.9 L122.02 1044.58 L123.52 1044.26 L125.03 1043.92 L126.54 1043.56 M137.66 1040.58 L139.28 1040.1 L140.9 1039.61 L142.52 1039.1 L144.14 1038.59 L145.76 1038.07 M156.87 1034.08 L158.49 1033.42 L160.11 1032.75 L161.73 1032.05 L163.35 1031.35 L164.97 1030.63 M176.09 1025.41 L177.71 1024.62 L179.33 1023.83 L180.95 1023.03 L182.57 1022.22 L184.19 1021.38 M195.31 1015.31 L196.93 1014.39 L198.55 1013.46 L200.17 1012.53 L201.79 1011.59 L203.41 1010.66 M214.53 1004.19 L216.15 1003.23 L217.77 1002.27 L219.39 1001.3 L221.01 1000.33 L222.63 999.35 M233.75 992.49 L235.37 991.47 L236.99 990.44 L238.61 989.41 L240.23 988.37 L241.85 987.33 M252.96 979.98 L254.58 978.88 L256.2 977.78 L257.82 976.68 L259.44 975.56 L261.06 974.45 M272.18 966.61 L273.8 965.43 L275.42 964.24 L277.04 963.03 L278.66 961.81 L280.28 960.58 M291.4 951.67 L293.02 950.36 L294.64 949.05 L296.26 947.74 L297.88 946.44 L299.5 945.13 M310.62 936.08 L312.24 934.74 L313.86 933.4 L315.48 932.07 L317.1 930.73 L318.72 929.4 M329.84 920.32 L331.46 919 L333.08 917.68 L334.7 916.36 L336.32 915.04 L337.94 913.72 M349.05 904.38 L350.67 902.94 L352.29 901.5 L353.91 900.05 L355.53 898.59 L357.15 897.14 M368.27 887.11 L369.89 885.67 L371.51 884.25 L373.13 882.86 L374.75 881.49 L376.37 880.12 M387.49 871.69 L389.11 870.67 L390.73 869.7 L392.35 868.76 L393.97 867.85 L395.59 866.97 M406.71 861.54 L408.33 860.76 L409.95 860.02 L411.57 859.34 L413.19 858.68 L414.81 858.04 M425.93 854.19 L427.55 853.69 L429.17 853.2 L430.79 852.72 L432.41 852.27 L434.03 851.82 M445.14 849.18 L446.76 848.85 L448.38 848.52 L450 848.21 L451.62 847.89 L453.24 847.59 M464.36 845.73 L465.98 845.49 L467.6 845.27 L469.22 845.05 L470.84 844.84 L472.46 844.64 M483.58 843.33 L485.2 843.14 L486.82 842.96 L488.44 842.79 L490.06 842.61 L491.68 842.43 M502.8 841.24 L504.42 841.07 L506.04 840.9 L507.66 840.73 L509.28 840.56 L510.9 840.39 M522.02 839.17 L523.64 839 L525.26 838.82 L526.88 838.63 L528.5 838.45 L530.12 838.26 M541.23 837.11 L542.85 836.96 L544.47 836.81 L546.09 836.66 L547.71 836.51 L549.33 836.37 M560.45 835.46 L562.07 835.33 L563.69 835.21 L565.31 835.09 L566.93 834.97 L568.55 834.85 M579.67 834.07 L581.29 833.97 L582.91 833.86 L584.53 833.76 L586.15 833.66 L587.77 833.57 M598.89 833.01 L600.51 832.94 L602.13 832.87 L603.75 832.8 L605.37 832.73 L606.99 832.67 M618.11 832.27 L619.73 832.21 L621.35 832.16 L622.97 832.11 L624.59 832.06 L626.21 832.01 M637.32 831.7 L638.94 831.65 L640.56 831.61 L642.18 831.56 L643.8 831.52 L645.42 831.48 M656.54 831.19 L658.16 831.15 L659.78 831.11 L661.4 831.07 L663.02 831.03 L664.64 830.99 M675.76 830.73 L677.38 830.7 L679 830.66 L680.62 830.63 L682.24 830.6 L683.86 830.57 M694.98 830.36 L696.6 830.34 L698.22 830.31 L699.84 830.28 L701.46 830.26 L703.08 830.24"/>
</g>
<clipPath id="ct"><rect x="118.5" y="430" width="595.6" height="615.8"/></clipPath>
<path clip-path="url(#ct)" d="M148.73 430.5 v4 M148.73 734.1 v8 M148.73 1045.3 v-4 M178.46 430.5 v8.4 M178.46 729.7 v16.8 M178.46 1045.3 v-8.4 M208.19 430.5 v4 M208.19 734.1 v8 M208.19 1045.3 v-4 M237.92 430.5 v8.4 M237.92 729.7 v16.8 M237.92 1045.3 v-8.4 M267.65 430.5 v4 M267.65 734.1 v8 M267.65 1045.3 v-4 M297.38 430.5 v8.4 M297.38 729.7 v16.8 M297.38 1045.3 v-8.4 M327.11 430.5 v4 M327.11 734.1 v8 M327.11 1045.3 v-4 M356.84 430.5 v8.4 M356.84 729.7 v16.8 M356.84 1045.3 v-8.4 M386.57 430.5 v4 M386.57 734.1 v8 M386.57 1045.3 v-4 M416.3 430.5 v8.4 M416.3 729.7 v16.8 M416.3 1045.3 v-8.4 M446.03 430.5 v4 M446.03 734.1 v8 M446.03 1045.3 v-4 M475.76 430.5 v8.4 M475.76 729.7 v16.8 M475.76 1045.3 v-8.4 M505.49 430.5 v4 M505.49 734.1 v8 M505.49 1045.3 v-4 M535.22 430.5 v8.4 M535.22 729.7 v16.8 M535.22 1045.3 v-8.4 M564.95 430.5 v4 M564.95 734.1 v8 M564.95 1045.3 v-4 M594.68 430.5 v8.4 M594.68 729.7 v16.8 M594.68 1045.3 v-8.4 M624.41 430.5 v4 M624.41 734.1 v8 M624.41 1045.3 v-4 M654.14 430.5 v8.4 M654.14 729.7 v16.8 M654.14 1045.3 v-8.4 M683.87 430.5 v4 M683.87 734.1 v8 M683.87 1045.3 v-4 M119 712.51 h4 M713.6 712.51 h-4 M119 686.88 h8.4 M713.6 686.88 h-8.4 M119 661.24 h4 M713.6 661.24 h-4 M119 635.6 h8.4 M713.6 635.6 h-8.4 M119 609.96 h4 M713.6 609.96 h-4 M119 584.33 h8.4 M713.6 584.33 h-8.4 M119 558.69 h4 M713.6 558.69 h-4 M119 533.05 h8.4 M713.6 533.05 h-8.4 M119 507.41 h4 M713.6 507.41 h-4 M119 481.77 h8.4 M713.6 481.77 h-8.4 M119 456.14 h4 M713.6 456.14 h-4 M119 1019.66 h4 M713.6 1019.66 h-4 M119 994.02 h8.4 M713.6 994.02 h-8.4 M119 968.38 h4 M713.6 968.38 h-4 M119 942.74 h8.4 M713.6 942.74 h-8.4 M119 917.1 h4 M713.6 917.1 h-4 M119 891.46 h8.4 M713.6 891.46 h-8.4 M119 865.82 h4 M713.6 865.82 h-4 M119 840.18 h8.4 M713.6 840.18 h-8.4 M119 814.54 h4 M713.6 814.54 h-4 M119 788.9 h8.4 M713.6 788.9 h-8.4 M119 763.26 h4 M713.6 763.26 h-4" stroke="#000" stroke-width="2.0" stroke-linecap="round" fill="none"/>
<rect x="140" y="432" width="75" height="68" fill="#fff"/>
<rect x="140" y="739.2" width="85" height="80" fill="#fff"/>
<rect x="119" y="430.5" width="594.6" height="614.8" fill="none" stroke="#000" stroke-width="2"/>
<line x1="119" x2="713.6" y1="737.85" y2="737.85" stroke="#000" stroke-width="2.2"/>
<line x1="147.2" x2="177" y1="448.9" y2="448.9" stroke="#000" stroke-width="2.2" stroke-linecap="round"/>
<text x="180.9" y="453" font-size="11.8">m</text>
<text x="191.4" y="458" font-size="7.4">x</text>
<text x="195.4" y="453" font-size="11.8">=1</text>
<line x1="147.2" x2="177" y1="469.9" y2="469.9" stroke="#0000ff" stroke-width="2.2" stroke-linecap="round"/>
<text x="180.9" y="474" font-size="11.8">m</text>
<text x="191.4" y="479" font-size="7.4">x</text>
<text x="195.4" y="474" font-size="11.8">=2</text>
<line x1="147.2" x2="177" y1="490.8" y2="490.8" stroke="#ff0000" stroke-width="2.2" stroke-linecap="round"/>
<text x="180.9" y="495" font-size="11.8">m</text>
<text x="191.4" y="500" font-size="7.4">x</text>
<text x="195.4" y="495" font-size="11.8">=3</text>
<line x1="150.4" x2="185" y1="760.3" y2="760.3" stroke="#000" stroke-width="2.2" stroke-linecap="round"/>
<text x="188.9" y="765.9" font-size="13.8">m</text>
<text x="201.9" y="771.5" font-size="9">x</text>
<text x="206.1" y="765.9" font-size="13.8">=1</text>
<line x1="150.4" x2="185" y1="784.8" y2="784.8" stroke="#0000ff" stroke-width="2.2" stroke-linecap="round"/>
<text x="188.9" y="790.3" font-size="13.8">m</text>
<text x="201.9" y="795.9" font-size="9">x</text>
<text x="206.1" y="790.3" font-size="13.8">=2</text>
<line x1="150.4" x2="185" y1="808.9" y2="808.9" stroke="#ff0000" stroke-width="2.2" stroke-linecap="round"/>
<text x="188.9" y="814.4" font-size="13.8">m</text>
<text x="201.9" y="820" font-size="9">x</text>
<text x="206.1" y="814.4" font-size="13.8">=3</text>
<text x="109.7" y="435" font-size="17" text-anchor="end">0.12</text>
<text x="109.7" y="487" font-size="17" text-anchor="end">0.10</text>
<text x="109.7" y="538" font-size="17" text-anchor="end">0.08</text>
<text x="109.7" y="589" font-size="17" text-anchor="end">0.06</text>
<text x="109.7" y="641" font-size="17" text-anchor="end">0.04</text>
<text x="109.7" y="692" font-size="17" text-anchor="end">0.02</text>
<text x="109.7" y="743" font-size="17" text-anchor="end">0.00</text>
<text x="109.7" y="794" font-size="17" text-anchor="end">0.10</text>
<text x="109.7" y="845" font-size="17" text-anchor="end">0.08</text>
<text x="109.7" y="896" font-size="17" text-anchor="end">0.06</text>
<text x="109.7" y="948" font-size="17" text-anchor="end">0.04</text>
<text x="109.7" y="999" font-size="17" text-anchor="end">0.02</text>
<text x="109.7" y="1050" font-size="17" text-anchor="end">0.00</text>
<text x="118.5" y="1068" font-size="17" text-anchor="middle">0</text>
<text x="177.96" y="1068" font-size="17" text-anchor="middle">2</text>
<text x="237.42" y="1068" font-size="17" text-anchor="middle">4</text>
<text x="296.88" y="1068" font-size="17" text-anchor="middle">6</text>
<text x="356.34" y="1068" font-size="17" text-anchor="middle">8</text>
<text x="416.6" y="1068" font-size="17" text-anchor="middle">10</text>
<text x="476.06" y="1068" font-size="17" text-anchor="middle">12</text>
<text x="535.52" y="1068" font-size="17" text-anchor="middle">14</text>
<text x="594.98" y="1068" font-size="17" text-anchor="middle">16</text>
<text x="654.44" y="1068" font-size="17" text-anchor="middle">18</text>
<text x="713.9" y="1068" font-size="17" text-anchor="middle">20</text>
<text transform="translate(418.9 1088.5) scale(1.18 1)" font-size="19.6" text-anchor="middle">z</text>
<text transform="translate(52.6 907.6) rotate(-90) scale(1 1.03)" font-size="23.83">Thomson Optical Depth <tspan class="tau" font-family="Liberation Serif" font-size="22.5">&#964;</tspan></text>
<text x="138.6" y="559" font-size="19.8" font-weight="bold" style="stroke-width:0.1px">Planck 2015</text>
<text x="141.9" y="869" font-size="19.8" font-weight="bold" style="stroke-width:0.1px">Planck 2015</text>
<text class="ser" x="582.2" y="714.8" font-size="21.3">Constant f<tspan font-size="13" dy="7.8" dx="-2.3">esc</tspan></text>
<text class="ser" x="582.3" y="1016" font-size="21">Evolving f<tspan font-size="13" dy="7.9" dx="-2.1">esc</tspan></text>
</svg></body></html>
